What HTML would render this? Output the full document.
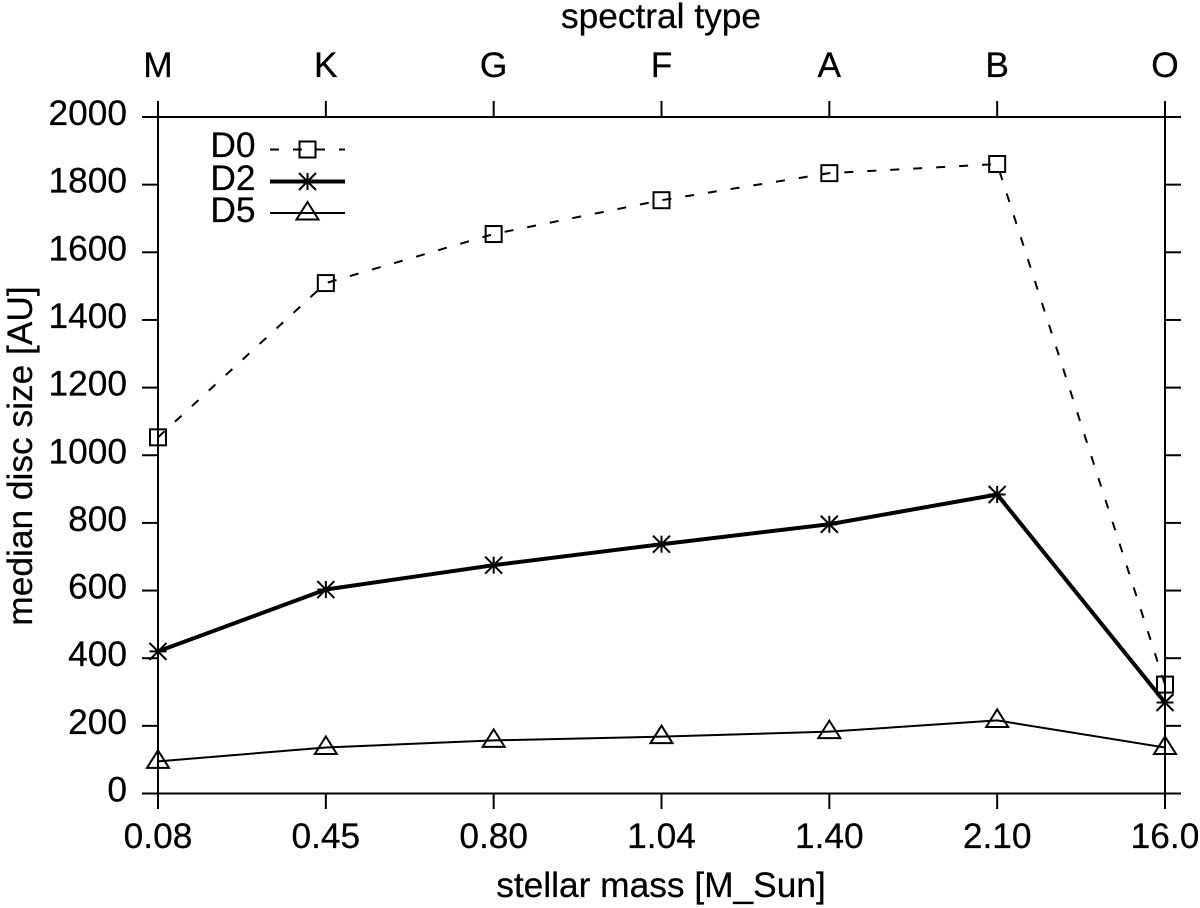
<!DOCTYPE html>
<html>
<head>
<meta charset="utf-8">
<title>Median disc size vs stellar mass</title>
<style>
html,body{margin:0;padding:0;background:#fff;width:1200px;height:908px;overflow:hidden}
svg{display:block}
text{font-family:"Liberation Sans",Arial,sans-serif;font-size:35.3px;fill:#000;stroke:#000;stroke-width:0.25px}
</style>
</head>
<body>
<svg id="chart" width="1200" height="908" viewBox="0 0 1200 908" xmlns="http://www.w3.org/2000/svg"></svg>
<script>
const massLabels = ['0.08','0.45','0.80','1.04','1.40','2.10','16.0'];
const spectralLabels = ['M','K','G','F','A','B','O'];
const yTicks = [0,200,400,600,800,1000,1200,1400,1600,1800,2000];
const d0Values = [1053,1509,1654,1754,1834,1861,322];
const d2Values = [420,603,675,737,796,884,269];
const d5Values = [95,136,157,168,183,216,136];

const svg = document.getElementById('chart');
const NS = 'http://www.w3.org/2000/svg';
const left = 158, right = 1165, top_ = 117, bottom = 793.5, yMax = 2000;
function xScale(i){ return left + (right - left) * i / (massLabels.length - 1); }
function yScale(v){ return bottom - (bottom - top_) * v / yMax; }
function make(tag, attrs, name, parent){
  const el = document.createElementNS(NS, tag);
  for (const k in attrs) el.setAttribute(k, attrs[k]);
  
  
  (parent || svg).appendChild(el);
  return el;
}
function line(x1,y1,x2,y2,sw,name,parent){
  return make('line',{x1:x1,y1:y1,x2:x2,y2:y2,stroke:'#000','stroke-width':sw},name,parent);
}
function label(str,x,y,anchor,name,parent){
  const t = make('text',{x:x,y:y,'text-anchor':anchor},name,parent);
  t.textContent = str;
  return t;
}
function square(x,y,name,parent){
  make('rect',{x:x-8,y:y-8,width:16,height:16,fill:'none',stroke:'#000','stroke-width':2},name,parent);
}
function star(x,y,name,parent){
  const g = make('g',{stroke:'#000','stroke-width':2},name,parent);
  const r = 8.5;
  make('line',{x1:x-r,y1:y,x2:x+r,y2:y},'star-stroke-horizontal',g);
  make('line',{x1:x,y1:y-r,x2:x,y2:y+r},'star-stroke-vertical',g);
  make('line',{x1:x-r,y1:y-r,x2:x+r,y2:y+r},'star-stroke-diagonal-a',g);
  make('line',{x1:x-r,y1:y+r,x2:x+r,y2:y-r},'star-stroke-diagonal-b',g);
}
function triangle(x,y,name,parent){
  const pts = (x-11)+','+(y+6.5)+' '+(x+11)+','+(y+6.5)+' '+x+','+(y-11);
  make('polygon',{points:pts,fill:'none',stroke:'#000','stroke-width':2},name,parent);
}

// y ticks and labels
yTicks.forEach(function(v){
  const y = yScale(v);
  line(142,y,left,y,2,'y-tick-left-'+v);
  line(right,y,1181,y,2,'y-tick-right-'+v);
  label(String(v),127,y+8,'end','y-tick-label-'+v);
});
// x ticks and labels
massLabels.forEach(function(m,i){
  const x = xScale(i);
  line(x,bottom,x,809,2,'x-tick-bottom-'+m);
  line(x,101,x,top_,2,'x-tick-top-'+spectralLabels[i]);
  label(m,x,848,'middle','x-tick-label-'+m);
  label(spectralLabels[i],x,77,'middle','spectral-type-label-'+spectralLabels[i]);
});
// plot frame
make('rect',{x:left,y:top_,width:right-left,height:bottom-top_,fill:'none',stroke:'#000','stroke-width':2},'plot-frame');

// axis titles
label('spectral type',661,28,'middle','top-axis-title');
label('stellar mass [M_Sun]',661,897,'middle','x-axis-title');
const yt = label('median disc size [AU]',0,0,'middle','y-axis-title');
yt.setAttribute('transform','translate(32,456) rotate(-90)');

// series
function pts(vals){ return vals.map(function(v,i){ return xScale(i)+','+yScale(v); }).join(' '); }
make('polyline',{points:pts(d0Values),fill:'none',stroke:'#000','stroke-width':2,'stroke-dasharray':'9 14'},'series-d0-line');
make('polyline',{points:pts(d2Values),fill:'none',stroke:'#000','stroke-width':4,'stroke-linejoin':'round'},'series-d2-line');
make('polyline',{points:pts(d5Values),fill:'none',stroke:'#000','stroke-width':2},'series-d5-line');
d0Values.forEach(function(v,i){ square(xScale(i),yScale(v),'d0-point-'+massLabels[i]); });
d2Values.forEach(function(v,i){ star(xScale(i),yScale(v),'d2-point-'+massLabels[i]); });
d5Values.forEach(function(v,i){ triangle(xScale(i),yScale(v),'d5-point-'+massLabels[i]); });

// legend
const legend = make('g',{},'legend');
label('D0',255.5,157,'end','legend-label-d0',legend);
label('D2',255.5,190,'end','legend-label-d2',legend);
label('D5',255.5,222,'end','legend-label-d5',legend);
make('line',{x1:270,y1:149.5,x2:345,y2:149.5,stroke:'#000','stroke-width':2,'stroke-dasharray':'9 14'},'legend-line-d0',legend);
square(307.5,149.5,'legend-marker-d0',legend);
line(270,181.5,345,181.5,4,'legend-line-d2',legend);
star(307.5,181.5,'legend-marker-d2',legend);
line(270,213,345,213,2,'legend-line-d5',legend);
triangle(307.5,213,'legend-marker-d5',legend);
</script>
</body>
</html>
